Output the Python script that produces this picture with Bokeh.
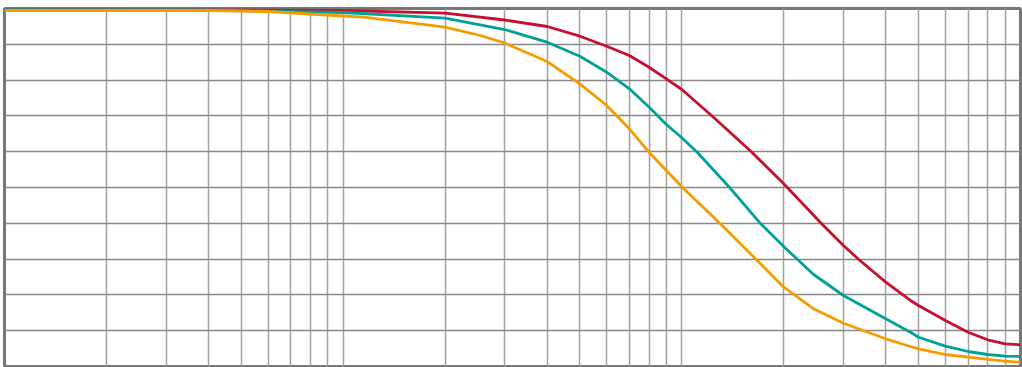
from bokeh.plotting import figure
from bokeh.models import FixedTicker, Range1d
from bokeh.embed import file_html
from bokeh.resources import INLINE

red_x = [1, 4, 10, 20, 30, 40, 50, 60, 70, 80, 90, 100, 124, 161, 200, 257, 300, 333,
         400, 473, 500, 600, 700, 800, 900, 1000]
red_y = [99.72, 99.66, 99.44, 98.70, 96.79, 94.97, 92.26, 89.47, 86.87, 83.60, 80.36,
         77.37, 69.64, 59.86, 51.03, 40.14, 33.80, 29.89, 23.55, 18.44, 17.04, 12.85,
         9.58, 7.46, 6.34, 6.06]

teal_x = [1, 4, 10, 20, 30, 40, 50, 60, 70, 80, 90, 100, 111, 139, 171, 202, 245, 300,
          400, 473, 500, 600, 700, 800, 900, 1000]
teal_y = [99.72, 99.58, 98.88, 97.29, 94.13, 90.59, 86.68, 82.21, 77.57, 72.49, 67.60,
          63.88, 59.86, 49.80, 39.86, 33.10, 25.70, 19.83, 13.32, 9.58, 8.18, 5.67,
          4.19, 3.35, 2.88, 2.79]

orange_x = [1, 4, 6, 10, 11.5, 20, 25.4, 30, 40, 50, 60, 70, 80, 90, 101, 130, 156, 200,
            245, 300, 400, 473, 500, 600, 700, 800, 900, 1000]
orange_y = [99.44, 99.44, 99.16, 97.91, 97.57, 94.78, 92.46, 90.36, 85.20, 78.97, 72.91,
            66.40, 59.86, 54.75, 49.80, 39.86, 32.40, 22.15, 16.12, 12.09, 7.74, 5.59,
            4.94, 3.35, 2.60, 1.96, 1.48, 1.20]

grid_x = [m * 10 ** e for e in range(3) for m in range(1, 10)] + [1000]
grid_y = list(range(0, 101, 10))

p = figure(width=1022, height=367, x_axis_type="log",
           x_range=Range1d(1, 1000), y_range=Range1d(0, 100),
           output_backend="svg", toolbar_location=None,
           min_border_left=4, min_border_right=2, min_border_top=8, min_border_bottom=1)

p.xaxis.visible = False
p.yaxis.visible = False
p.xgrid.ticker = FixedTicker(ticks=grid_x)
p.ygrid.ticker = FixedTicker(ticks=grid_y)
p.xgrid.grid_line_color = "#a0a0a0"
p.xgrid.grid_line_width = 1.5
p.ygrid.grid_line_color = "#888888"
p.ygrid.grid_line_width = 1.5
p.outline_line_color = "#777777"
p.outline_line_width = 3
p.outline_line_alpha = 1.0
p.background_fill_color = "white"
p.border_fill_color = "white"

p.line(red_x, red_y, line_color="#c8102e", line_width=2.8, line_join="round")
p.line(teal_x, teal_y, line_color="#00a19a", line_width=2.8, line_join="round")
p.line(orange_x, orange_y, line_color="#f59c00", line_width=2.8, line_join="round")

open("out.html", "w").write(file_html(p, INLINE))
